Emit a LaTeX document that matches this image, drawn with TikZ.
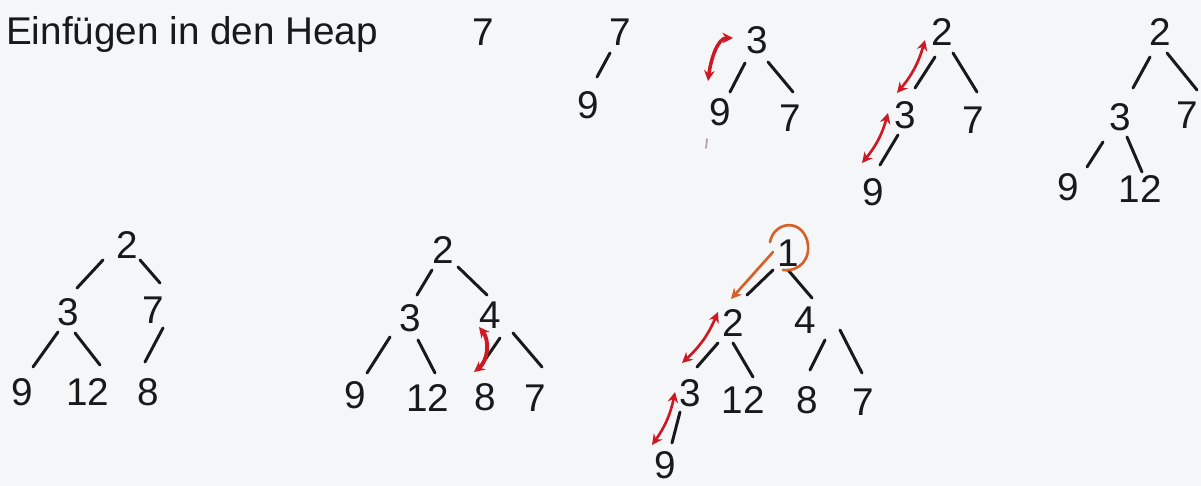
\documentclass[tikz,border=0pt]{standalone}
\usepackage{fontspec}
\setmainfont{Liberation Sans}
\usetikzlibrary{arrows.meta}
\definecolor{bg}{RGB}{244,246,248}
\definecolor{ink}{RGB}{25,25,25}
\definecolor{redink}{RGB}{205,25,35}
\definecolor{orink}{RGB}{215,95,40}
\definecolor{faint}{RGB}{185,160,160}
\begin{document}
\begin{tikzpicture}[x=0.02cm,y=-0.02cm,
  num/.style={inner sep=0pt,text=ink,font=\fontsize{22}{24}\selectfont},
  edge/.style={draw=ink,line width=1.7pt,line cap=round},
  swap/.style={draw=redink,line width=1.5pt,line cap=round,{Stealth[length=6pt,width=6pt]}-{Stealth[length=6pt,width=6pt]}},
  orarrow/.style={draw=orink,line width=1.5pt,line cap=round,-{Stealth[length=6pt,width=6pt]}},
  orloop/.style={draw=orink,line width=1.5pt,line cap=round}]
\fill[bg] (0,0) rectangle (1201,486);
\useasboundingbox (0,0) rectangle (1201,486);

\node[anchor=base west,text=ink,font=\fontsize{22}{24}\selectfont] (title) at (0,45) {Einfügen in den Heap};

% tree 1
\node[num] (t1a) at (483,32) {7};

% tree 2
\node[num] (t2a) at (620,32) {7};
\node[num] (t2b) at (588,105) {9};
\draw[edge] ([shift={(-10,21)}]t2a.center) -- ([shift={(9,-28)}]t2b.center);

% tree 3
\node[num] (t3a) at (757,40) {3};
\node[num] (t3b) at (720,112) {9};
\node[num] (t3c) at (790,118) {7};
\draw[edge] ([shift={(-12,23)}]t3a.center) -- ([shift={(10,-20)}]t3b.center);
\draw[edge] ([shift={(11,22)}]t3a.center) -- ([shift={(3,-26)}]t3c.center);
\coordinate (s3a) at (733,38);
\coordinate (s3b) at (708,81);
\draw[swap,line width=2pt] (s3a) .. controls (718,38) and (711,58) .. (s3b);
\coordinate (m3) at (707,139);
\draw[faint,line width=1pt,line cap=round] (m3) -- ++(-1,9);

% tree 4
\node[num] (t4a) at (942,32) {2};
\node[num] (t4b) at (905,115) {3};
\node[num] (t4c) at (973,120) {7};
\node[num] (t4d) at (873,192) {9};
\draw[edge] ([shift={(-7,25)}]t4a.center) -- ([shift={(10,-27)}]t4b.center);
\draw[edge] ([shift={(11,21)}]t4a.center) -- ([shift={(4,-28)}]t4c.center);
\draw[edge] ([shift={(-7,20)}]t4b.center) -- ([shift={(7,-27)}]t4d.center);
\coordinate (s4a) at (925,40);
\coordinate (s4b) at (897,93);
\coordinate (s4c) at (888,113);
\coordinate (s4d) at (862,163);
\draw[swap] (s4a) to[bend left=12] (s4b);
\draw[swap] (s4c) to[bend left=12] (s4d);

% tree 5
\node[num] (t5a) at (1160,32) {2};
\node[num] (t5b) at (1120,117) {3};
\node[num] (t5c) at (1187,115) {7};
\node[num] (t5d) at (1068,187) {9};
\node[num] (t5e) at (1140,189) {12};
\draw[edge] ([shift={(-10,25)}]t5a.center) -- ([shift={(13,-29)}]t5b.center);
\draw[edge] ([shift={(7,21)}]t5a.center) -- ([shift={(10,-25)}]t5c.center);
\draw[edge] ([shift={(-17,25)}]t5b.center) -- ([shift={(19,-20)}]t5d.center);
\draw[edge] ([shift={(7,20)}]t5b.center) -- ([shift={(2,-17)}]t5e.center);

% tree 6
\node[num] (t6a) at (127,245) {2};
\node[num] (t6b) at (68,312) {3};
\node[num] (t6c) at (153,310) {7};
\node[num] (t6d) at (22,392) {9};
\node[num] (t6e) at (88,392) {12};
\node[num] (t6f) at (148,392) {8};
\draw[edge] ([shift={(-24,15)}]t6a.center) -- ([shift={(9,-24)}]t6b.center);
\draw[edge] ([shift={(13,15)}]t6a.center) -- ([shift={(7,-27)}]t6c.center);
\draw[edge] ([shift={(-10,20)}]t6b.center) -- ([shift={(11,-25)}]t6d.center);
\draw[edge] ([shift={(7,21)}]t6b.center) -- ([shift={(12,-27)}]t6e.center);
\draw[edge] ([shift={(10,18)}]t6c.center) -- ([shift={(-3,-30)}]t6f.center);

% tree 7
\node[num] (t7a) at (443,250) {2};
\node[num] (t7b) at (410,318) {3};
\node[num] (t7c) at (490,315) {4};
\node[num] (t7d) at (355,395) {9};
\node[num] (t7e) at (428,398) {12};
\node[num] (t7f) at (485,397) {8};
\node[num] (t7g) at (535,398) {7};
\draw[edge] ([shift={(-11,20)}]t7a.center) -- ([shift={(7,-23)}]t7b.center);
\draw[edge] ([shift={(15,17)}]t7a.center) -- ([shift={(-3,-20)}]t7c.center);
\draw[edge] ([shift={(-20,19)}]t7b.center) -- ([shift={(12,-22)}]t7d.center);
\draw[edge] ([shift={(8,22)}]t7b.center) -- ([shift={(7,-25)}]t7e.center);
\draw[edge] ([shift={(10,23)}]t7c.center) -- ([shift={(-5,-30)}]t7f.center);
\draw[edge] ([shift={(23,18)}]t7c.center) -- ([shift={(7,-31)}]t7g.center);
\coordinate (s7a) at (479,327);
\coordinate (s7b) at (474,372);
\draw[swap,line width=2.2pt] (s7a) to[bend left=45] (s7b);

% tree 8
\node[num] (t8a) at (788,253) {1};
\node[num] (t8b) at (733,323) {2};
\node[num] (t8c) at (805,320) {4};
\node[num] (t8d) at (690,393) {3};
\node[num] (t8e) at (743,400) {12};
\node[num] (t8f) at (807,400) {8};
\node[num] (t8g) at (863,402) {7};
\node[num] (t8h) at (665,465) {9};
\draw[edge] ([shift={(-15,17)}]t8a.center) -- ([shift={(14,-28)}]t8b.center);
\draw[edge] ([shift={(0,17)}]t8a.center) -- ([shift={(7,-22)}]t8c.center);
\draw[edge] ([shift={(-15,20)}]t8b.center) -- ([shift={(7,-26)}]t8d.center);
\draw[edge] ([shift={(0,20)}]t8b.center) -- ([shift={(10,-23)}]t8e.center);
\draw[edge] ([shift={(20,20)}]t8c.center) -- ([shift={(3,-30)}]t8f.center);
\draw[edge] ([shift={(35,10)}]t8c.center) -- ([shift={(-1,-29)}]t8g.center);
\draw[edge] ([shift={(-10,19)}]t8d.center) -- ([shift={(7,-22)}]t8h.center);
\draw[orloop] (770,242) .. controls (774,222) and (800,218) .. (807,240) .. controls (812,258) and (800,272) .. (783,270);
\coordinate (o8a) at (773,252);
\coordinate (o8b) at (731,299);
\draw[orarrow] (o8a) -- (o8b);
\coordinate (s8a) at (718,312);
\coordinate (s8b) at (682,363);
\coordinate (s8c) at (675,392);
\coordinate (s8d) at (652,445);
\draw[swap] (s8a) to[bend left=12] (s8b);
\draw[swap] (s8c) to[bend left=12] (s8d);
\end{tikzpicture}
\end{document}
